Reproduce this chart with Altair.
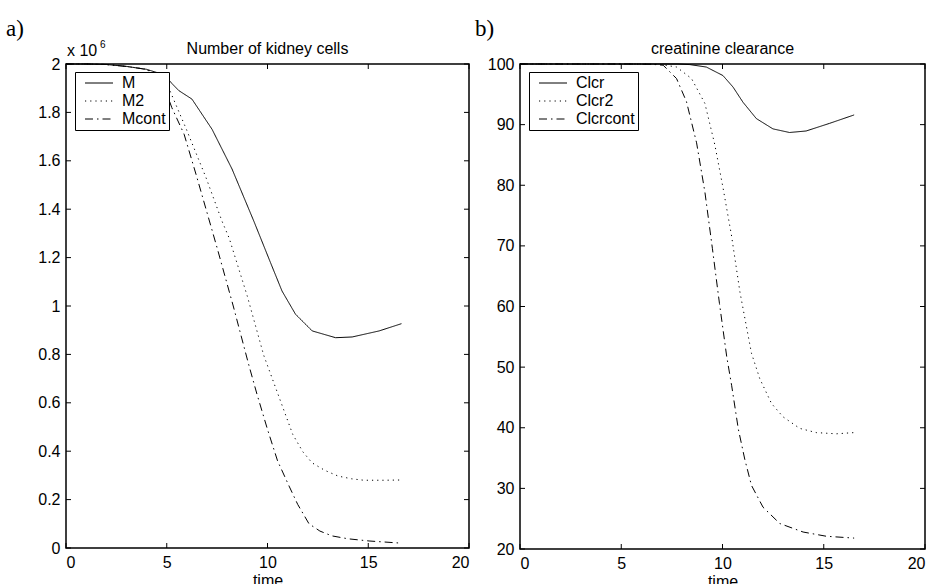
import altair as alt
import pandas as pd

# ---------------- data ----------------
# Panel a) Number of kidney cells (values in units of 10^6)
m_t = [0, 1, 2, 3, 4, 4.5, 5.0, 5.25, 5.6, 6.25, 7.25, 8.24, 9.32, 10.15, 10.72, 11.39, 12.22, 13.38, 14.2, 15.54, 16.65]
m_v = [2.0, 2.0, 1.998, 1.99, 1.978, 1.965, 1.945, 1.92, 1.89, 1.855, 1.73, 1.566, 1.351, 1.179, 1.062, 0.966, 0.897, 0.869, 0.872, 0.897, 0.927]

m2_t = [0, 1, 2, 3, 4, 4.5, 5.0, 5.36, 5.95, 6.95, 7.74, 8.1, 9.0, 9.81, 10.51, 11.25, 11.75, 12.21, 12.84, 13.51, 14.17, 14.78, 15.83, 16.6]
m2_v = [2.0, 2.0, 1.998, 1.99, 1.978, 1.96, 1.92, 1.85, 1.735, 1.53, 1.351, 1.28, 1.04, 0.797, 0.638, 0.470, 0.398, 0.352, 0.321, 0.297, 0.286, 0.280, 0.280, 0.281]

mc_t = [0, 1, 2, 3, 3.8, 4.4, 4.9, 5.25, 5.86, 6.45, 6.95, 7.5, 8.3, 9.06, 9.48, 10.0, 10.5, 11.07, 11.5, 12.06, 12.6, 13.2, 14.0, 15.04, 16.65]
mc_v = [2.0, 2.0, 1.998, 1.99, 1.98, 1.965, 1.90, 1.82, 1.71, 1.545, 1.40, 1.24, 1.0, 0.76, 0.635, 0.49, 0.36, 0.256, 0.18, 0.10, 0.07, 0.05, 0.038, 0.029, 0.02]

# Panel b) creatinine clearance
c_t = [0, 7.0, 7.8, 8.39, 9.2, 10.02, 10.52, 11.01, 11.67, 12.49, 13.31, 14.13, 15.28, 16.5]
c_v = [100, 100, 100, 99.9, 99.5, 98.1, 96.2, 93.7, 91.0, 89.3, 88.7, 88.95, 90.2, 91.6]

c2_t = [0, 6.0, 7.0, 7.73, 8.47, 9.13, 9.62, 10.03, 10.44, 10.86, 11.43, 11.84, 12.42, 12.99, 13.81, 14.63, 15.62, 16.5]
c2_v = [100, 100, 99.9, 99.5, 97.6, 93.5, 86.7, 79.5, 71.8, 62.4, 52.3, 48.1, 44.0, 41.8, 39.9, 39.2, 39.0, 39.2]

cc_t = [0, 5.5, 6.5, 7.07, 7.73, 8.22, 8.72, 9.13, 9.5, 9.85, 10.21, 10.45, 10.78, 11.1, 11.43, 12.0, 12.83, 13.98, 15.13, 16.5]
cc_v = [100, 100, 99.95, 99.8, 97.6, 93.8, 87.0, 78.9, 69.6, 60.5, 51.7, 47.0, 39.8, 34.8, 30.5, 26.9, 24.2, 22.8, 22.1, 21.8]

x_ticks = [0, 5, 10, 15, 20]
ya_ticks = [0, 0.2, 0.4, 0.6, 0.8, 1.0, 1.2, 1.4, 1.6, 1.8, 2.0]
yb_ticks = [20, 30, 40, 50, 60, 70, 80, 90, 100]

names_a = ["M", "M2", "Mcont"]
names_b = ["Clcr", "Clcr2", "Clcrcont"]

FONT = "Liberation Sans"
SERIF = "Liberation Serif"
FS = 16
TICK = 5


def series_df(names, ts, vs):
    rows = []
    for n, t, v in zip(names, ts, vs):
        for ti, vi in zip(t, v):
            rows.append({"series": n, "t": ti, "v": vi})
    return pd.DataFrame(rows)


def txt(s, size, dx, dy, font=FONT, align="left"):
    return alt.Chart(pd.DataFrame({"s": [s]})).mark_text(
        font=font, fontSize=size, align=align, baseline="alphabetic", color="black"
    ).encode(text="s:N", x=alt.value(dx), y=alt.value(dy))


def panel(df, names, ydom, yticks, W, H, letter, letter_dx, title, exponent):
    xs = alt.Scale(domain=[0, 20], nice=False, zero=False)
    ys = alt.Scale(domain=ydom, nice=False, zero=False)
    xax = alt.Axis(values=x_ticks, title="time", ticks=False, domain=False, grid=False,
                   labelPadding=6, titlePadding=2, labelFont=FONT, titleFont=FONT,
                   labelFontSize=FS, titleFontSize=FS, titleFontWeight="normal",
                   labelColor="black", titleColor="black")
    yax = alt.Axis(values=yticks, title=None, ticks=False, domain=False, grid=False,
                   format="~f", labelPadding=6, labelFont=FONT, labelFontSize=FS,
                   labelColor="black")

    lines = alt.Chart(df).mark_line(color="black", strokeWidth=1).encode(
        x=alt.X("t:Q", scale=xs, axis=xax),
        y=alt.Y("v:Q", scale=ys, axis=yax),
        strokeDash=alt.StrokeDash(
            "series:N",
            scale=alt.Scale(domain=names, range=[[1, 0], [1.2, 4], [8, 4, 1.5, 4]]),
            legend=alt.Legend(
                title=None, orient="none", legendX=9, legendY=8,
                fillColor="white", strokeColor="black", padding=3,
                symbolType="M-2,0H2", symbolSize=196, symbolStrokeWidth=1,
                symbolStrokeColor="black", symbolOffset=13,
                labelFont=FONT, labelFontSize=FS, labelColor="black",
                labelOffset=15, rowPadding=2, cornerRadius=0,
                labelExpr="datum.label + '\u00a0'",
            ),
        ),
        detail="series:N",
    )

    xt = pd.DataFrame({"t": x_ticks})
    yt = pd.DataFrame({"v": yticks})
    bot = alt.Chart(xt).mark_rule(color="black", strokeWidth=1).encode(
        x=alt.X("t:Q", scale=xs), y=alt.value(H), y2=alt.value(H - TICK))
    top = alt.Chart(xt).mark_rule(color="black", strokeWidth=1).encode(
        x=alt.X("t:Q", scale=xs), y=alt.value(0), y2=alt.value(TICK))
    lft = alt.Chart(yt).mark_rule(color="black", strokeWidth=1).encode(
        y=alt.Y("v:Q", scale=ys), x=alt.value(0), x2=alt.value(TICK))
    rgt = alt.Chart(yt).mark_rule(color="black", strokeWidth=1).encode(
        y=alt.Y("v:Q", scale=ys), x=alt.value(W), x2=alt.value(W - TICK))

    layers = [top, bot, lft, rgt, lines,
              txt(letter, 23, letter_dx, -28, font=SERIF),
              txt(title, FS, W / 2, -10, align="center")]
    if exponent:
        layers += [txt("x 10", FS, 1, -8), txt("6", 10, 34, -16)]

    return alt.layer(*layers).properties(width=W, height=H)


dfa = series_df(names_a, [m_t, m2_t, mc_t], [m_v, m2_v, mc_v])
dfb = series_df(names_b, [c_t, c2_t, cc_t], [c_v, c2_v, cc_v])

pa = panel(dfa, names_a, [0, 2], ya_ticks, 403, 484, "a)", -60, "Number of kidney cells", True)
pb = panel(dfb, names_b, [20, 100], yb_ticks, 405, 485, "b)", -45, "creatinine clearance", False)

chart = alt.hconcat(pa, pb, spacing=3).resolve_scale(
    x="independent", y="independent", strokeDash="independent"
).resolve_legend(strokeDash="independent").properties(
    padding={"left": 5, "top": 17, "right": 0, "bottom": 0},
    background="white",
).configure_view(stroke="black", strokeWidth=1.5)

chart.save("out.html", embed_options={"renderer": "svg", "actions": False})
